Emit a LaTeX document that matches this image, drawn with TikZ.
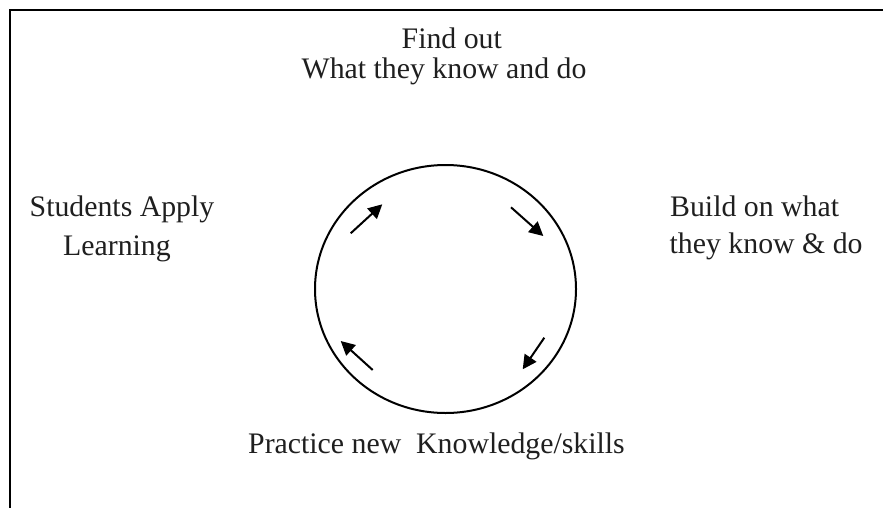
\documentclass[tikz,border=0pt]{standalone}
\usepackage{fontspec}
\setmainfont{Liberation Serif}
\usetikzlibrary{arrows.meta,shapes.geometric}
\tikzset{
  lbl/.style={inner sep=0pt, anchor=base west, font=\fontsize{29.8}{30}\selectfont, text=black!88},
  cyc/.style={draw, ellipse, line width=2pt, minimum width=261pt, minimum height=248pt, inner sep=0pt},
  flow/.style={line width=2pt, -{Triangle[length=14pt,width=14pt]}},
  frame/.style={line width=2.2pt}
}
\begin{document}
\begin{tikzpicture}[x=1pt,y=-1pt]
\useasboundingbox (0,0) rectangle (883,508);
\draw[frame] (10,508) -- (10,10.3) -- (883,10.3);
\node[cyc] (ring) at (445.5,289) {};
\node[lbl] (t1) at (401.5,48.3) {Find out};
\node[lbl] (t2) at (301.5,78.3) {What they know and do};
\node[lbl] (l1) at (29.5,216.7) {Students Apply};
\node[lbl] (l2) at (63,255) {Learning};
\node[lbl] (r1) at (670,216.7) {Build on what};
\node[lbl] (r2) at (669.5,253.3) {they know \& do};
\node[lbl] (b1) at (248,453.3) {Practice new\ \ Knowledge/skills};
\coordinate (a1s) at (350.7,233.3); \coordinate (a1e) at (382.3,204.3);
\coordinate (a2s) at (511,207.3);   \coordinate (a2e) at (543.3,236);
\coordinate (a3s) at (544.3,337.7); \coordinate (a3e) at (522.7,369.3);
\coordinate (a4s) at (372.7,370);   \coordinate (a4e) at (340.7,341);
\draw[flow] (a1s) -- (a1e);
\draw[flow] (a2s) -- (a2e);
\draw[flow] (a3s) -- (a3e);
\draw[flow] (a4s) -- (a4e);
\end{tikzpicture}
\end{document}
